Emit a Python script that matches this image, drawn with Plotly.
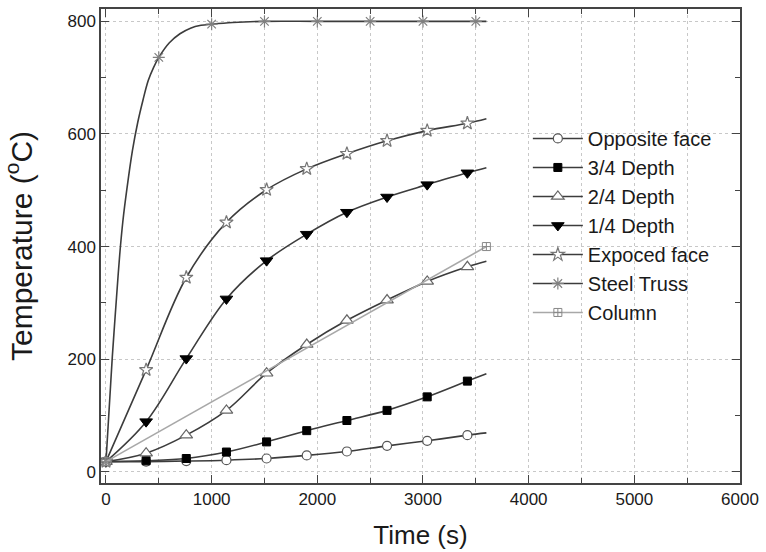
import plotly.graph_objects as go

# Time (s) at which the probe markers are drawn on the slab curves
marker_time = [0, 380, 760, 1140, 1520, 1900, 2280, 2660, 3040, 3420]
# Curve time grid (marker times plus the end of the test)
curve_time = marker_time + [3600]

opposite_face = [18, 18, 19, 20.5, 23.5, 29, 36, 46, 55, 65, 69]
depth_3_4 = [18, 19.5, 23.5, 35, 53, 73, 91, 109, 133, 161, 174]
depth_2_4 = [18, 33, 65, 109, 175, 226, 269, 305, 338, 364, 374]
depth_1_4 = [18, 89, 201, 307, 375, 422, 461, 488, 510, 531, 540]
exposed_face = [18, 181, 345, 443, 501, 538, 565, 588, 606, 619, 627]

# Steel truss: dense curve plus its own marker times
truss_time = [0, 20, 40, 60, 80, 100, 130, 160, 200, 250, 300, 350, 400, 450,
              500, 600, 700, 800, 900, 1000, 1200, 1500, 2000, 2500, 3000, 3500, 3600]
truss_temp = [18, 80, 142, 204, 258, 310, 385, 445, 505, 570, 620, 660, 695, 718,
              736, 762, 778, 788, 793, 795, 798, 800, 800, 800, 800, 800, 800]
truss_marker_time = [0, 500, 1000, 1500, 2000, 2500, 3000, 3500]
truss_marker_temp = [18, 736, 795, 800, 800, 800, 800, 800]

# Column: straight rise
column_time = [0, 3600]
column_temp = [18, 400]

LINE = "#3c3c3c"
FONT = "Liberation Sans, Arial, sans-serif"

series = [
    # name, x line, y line, x marker, y marker, line colour, marker style
    ("Opposite face", curve_time, opposite_face, marker_time, opposite_face[:-1], LINE,
     dict(symbol="circle", size=9, color="white", line=dict(color="#555", width=1.2))),
    ("3/4 Depth", curve_time, depth_3_4, marker_time, depth_3_4[:-1], LINE,
     dict(symbol="square", size=8, color="black", line=dict(color="black", width=1))),
    ("2/4 Depth", curve_time, depth_2_4, marker_time, depth_2_4[:-1], LINE,
     dict(symbol="triangle-up", size=11, color="white", line=dict(color="#666", width=1.2))),
    ("1/4 Depth", curve_time, depth_1_4, marker_time, depth_1_4[:-1], LINE,
     dict(symbol="triangle-down", size=11, color="black", line=dict(color="black", width=1))),
    ("Expoced face", curve_time, exposed_face, marker_time, exposed_face[:-1], LINE,
     dict(symbol="star", size=10, color="white", line=dict(color="#777", width=1.2))),
    ("Steel Truss", truss_time, truss_temp, truss_marker_time, truss_marker_temp, LINE,
     dict(symbol="asterisk-open", size=10, color="#808080", line=dict(color="#808080", width=1.2))),
    ("Column", column_time, column_temp, column_time, column_temp, "#a8a8a8",
     dict(symbol="square-cross-open", size=8, color="#888", line=dict(color="#888", width=1))),
]

fig = go.Figure()

for name, xl, yl, xm, ym, lc, mk in series:
    shape = "linear" if name == "Column" else "spline"
    fig.add_trace(go.Scatter(x=xl, y=yl, mode="lines", showlegend=False,
                             line=dict(color=lc, width=1.6, shape=shape),
                             hoverinfo="skip"))
    fig.add_trace(go.Scatter(x=xm, y=ym, mode="markers", showlegend=False,
                             marker=mk, name=name))

# Legend rows (line + marker sample)
for name, xl, yl, xm, ym, lc, mk in series:
    fig.add_trace(go.Scatter(x=[None], y=[None], mode="lines+markers", name=name,
                             line=dict(color=lc, width=1.6), marker=mk))

axis_common = dict(
    showline=True, linecolor="#444", linewidth=1.5, mirror="allticks",
    ticks="inside", ticklen=8, tickwidth=1.3, tickcolor="#444",
    tickfont=dict(family=FONT, size=17, color="#1a1a1a"),
    zeroline=False,
    showgrid=True, gridcolor="#c8c8c8", griddash="dot", gridwidth=1,
)

fig.update_xaxes(
    range=[-47, 6000], dtick=1000, tick0=0,
    minor=dict(dtick=500, ticks="inside", ticklen=5, tickcolor="#444",
               showgrid=True, gridcolor="#c8c8c8", griddash="dot"),
    title=dict(text="Time (s)", font=dict(family=FONT, size=26, color="#1a1a1a"),
               standoff=18),
    **axis_common,
)
fig.update_yaxes(
    range=[-20, 822], dtick=200, tick0=0,
    minor=dict(dtick=100, ticks="inside", ticklen=5, tickcolor="#444", showgrid=False),
    title=dict(text="Temperature (<sup>o</sup>C)",
               font=dict(family=FONT, size=30, color="#1a1a1a"), standoff=28),
    **axis_common,
)

fig.update_layout(
    width=766, height=552,
    margin=dict(l=101, r=23, t=7, b=68),
    plot_bgcolor="white", paper_bgcolor="white",
    font=dict(family=FONT),
    legend=dict(x=0.668, y=0.768, xanchor="left", yanchor="top",
                bgcolor="rgba(0,0,0,0)", borderwidth=0,
                font=dict(family=FONT, size=20, color="#1a1a1a"),
                tracegroupgap=0, itemwidth=50),
)

fig.write_html("out.html")
